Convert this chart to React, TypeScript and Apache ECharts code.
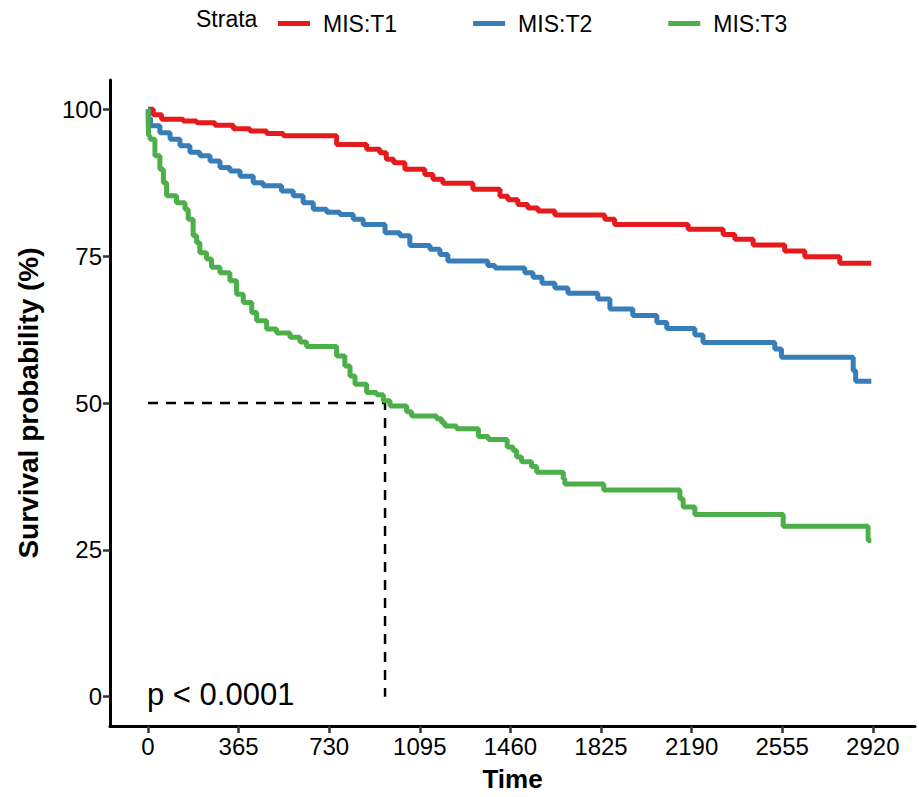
import React, { useEffect, useRef } from "react";
import * as echarts from "echarts";

const seriesNames = ["MIS:T1", "MIS:T2", "MIS:T3"];
const colors = ["#E41A1C", "#377EB8", "#4DAF4A"];

const t1Time = [0, 21, 55, 142, 196, 270, 344, 411, 478, 545, 760, 881, 934, 960, 990, 1035, 1115, 1148, 1188, 1309, 1418, 1450, 1490, 1530, 1571, 1639, 1840, 1880, 2176, 2317, 2364, 2438, 2565, 2646, 2787, 2914];
const t1Surv = [100, 99.1, 98.3, 98.0, 97.7, 97.3, 96.7, 96.3, 95.9, 95.5, 94.0, 93.2, 92.6, 91.5, 90.9, 89.8, 88.9, 88.1, 87.4, 86.4, 85.2, 84.6, 83.8, 83.2, 82.7, 82.0, 81.3, 80.4, 79.6, 78.7, 77.9, 76.9, 75.9, 74.9, 73.8, 73.8];

const t2Time = [0, 3, 10, 48, 89, 129, 169, 209, 250, 290, 330, 371, 424, 464, 538, 585, 625, 666, 720, 773, 827, 867, 955, 1015, 1055, 1136, 1176, 1208, 1369, 1398, 1518, 1551, 1587, 1639, 1692, 1812, 1861, 1953, 2050, 2090, 2203, 2236, 2525, 2552, 2841, 2851, 2914];
const t2Surv = [100, 98.5, 97.2, 96.0, 94.9, 93.8, 92.7, 92.1, 91.2, 90.1, 89.5, 88.6, 87.5, 87.0, 86.1, 85.3, 84.1, 83.0, 82.5, 82.1, 81.3, 80.4, 79.0, 78.5, 76.8, 76.2, 75.3, 74.2, 73.4, 73.0, 72.2, 71.4, 70.4, 69.6, 68.7, 67.7, 66.0, 64.9, 63.7, 62.7, 61.6, 60.3, 59.2, 57.8, 55.5, 53.7, 53.7];

const t3Time = [0, 1, 3, 8, 28, 48, 62, 75, 115, 149, 162, 182, 196, 209, 236, 256, 290, 330, 357, 384, 418, 438, 478, 518, 572, 612, 639, 760, 793, 814, 834, 881, 921, 948, 975, 1042, 1062, 1163, 1183, 1196, 1243, 1331, 1371, 1447, 1471, 1485, 1505, 1545, 1566, 1673, 1679, 1836, 2143, 2156, 2203, 2559, 2901, 2914];
const t3Surv = [100, 97.5, 95.5, 94.9, 92.1, 89.8, 87.5, 85.3, 84.1, 83.0, 81.3, 78.5, 77.3, 75.6, 74.5, 73.1, 72.2, 70.8, 68.5, 67.1, 65.4, 64.0, 62.6, 61.9, 61.2, 60.4, 59.6, 58.0, 56.3, 54.6, 53.2, 51.8, 51.4, 50.4, 49.5, 48.5, 47.8, 47.3, 46.7, 46.1, 45.6, 44.3, 43.8, 42.5, 41.9, 40.8, 40.0, 39.2, 38.2, 37.1, 36.2, 35.2, 33.7, 32.3, 31.0, 29.0, 26.6, 26.6];

const medianTime = 955;
const medianSurv = 50;

const xTicks = [0, 365, 730, 1095, 1460, 1825, 2190, 2555, 2920];
const yTicks = [0, 25, 50, 75, 100];

const pValueText = "p < 0.0001";
const legendTitle = "Strata";
const xTitle = "Time";
const yTitle = "Survival probability (%)";

const FONT = '"Liberation Sans", Arial, Helvetica, sans-serif';

function zip(t: number[], s: number[]) {
  return t.map((v, i) => [v, s[i]]);
}

export default function App() {
  const ref = useRef<HTMLDivElement>(null);
  useEffect(() => {
    if (!ref.current) return;
    const chart = echarts.init(ref.current, null, { renderer: "svg" });
    const curves = [zip(t1Time, t1Surv), zip(t2Time, t2Surv), zip(t3Time, t3Surv)];
    const series: any[] = curves.map((d, i) => ({
      name: seriesNames[i],
      type: "line",
      step: "end",
      data: d,
      showSymbol: false,
      symbol: "none",
      lineStyle: { color: colors[i], width: 5 },
      itemStyle: { color: colors[i] },
      z: 3,
    }));
    series.push({
      name: "median",
      type: "line",
      data: [
        [0, medianSurv],
        [medianTime, medianSurv],
        [medianTime, 0],
      ],
      showSymbol: false,
      symbol: "none",
      lineStyle: { color: "#000", width: 2.5, type: [10, 8] },
      z: 2,
    });
    chart.setOption({
      animation: false,
      backgroundColor: "#fff",
      textStyle: { fontFamily: FONT },
      grid: { left: 110, right: 4, top: 80, bottom: 70, containLabel: false },
      legend: {
        data: seriesNames,
        left: 273,
        top: 7,
        icon: "rect",
        itemWidth: 32,
        itemHeight: 5,
        itemGap: 76,
        textStyle: { fontSize: 23, color: "#000", fontFamily: FONT, padding: [0, 0, 0, 8] },
      },
      graphic: [
        {
          type: "text",
          left: 196,
          top: 7,
          style: { text: legendTitle, fontSize: 23, fill: "#000", fontFamily: FONT },
        },
        {
          type: "text",
          left: 147,
          top: 679,
          style: { text: pValueText, fontSize: 31, fill: "#000", fontFamily: FONT },
        },
      ],
      xAxis: {
        type: "value",
        min: -153,
        max: 3090,
        name: xTitle,
        nameLocation: "middle",
        nameGap: 40,
        nameTextStyle: { fontSize: 26, fontWeight: "bold", color: "#000", fontFamily: FONT },
        splitLine: { show: false },
        axisLine: { show: true, onZero: false, lineStyle: { color: "#000", width: 3 } },
        axisTick: { show: true, length: 7, customValues: xTicks, lineStyle: { color: "#333", width: 2.5 } },
        axisLabel: {
          customValues: xTicks,
          fontSize: 24,
          color: "#000",
          margin: 8,
          fontFamily: FONT,
          formatter: (v: number) => String(v),
        },
      },
      yAxis: {
        type: "value",
        min: -5,
        max: 105,
        name: yTitle,
        nameLocation: "middle",
        nameGap: 68,
        nameRotate: 90,
        nameTextStyle: { fontSize: 28, fontWeight: "bold", color: "#000", fontFamily: FONT },
        splitLine: { show: false },
        axisLine: { show: true, onZero: false, lineStyle: { color: "#000", width: 3 } },
        axisTick: { show: true, length: 7, customValues: yTicks, lineStyle: { color: "#333", width: 2.5 } },
        axisLabel: {
          customValues: yTicks,
          fontSize: 24,
          color: "#000",
          margin: 8,
          fontFamily: FONT,
          formatter: (v: number) => String(v),
        },
      },
      series,
    });
    return () => chart.dispose();
  }, []);
  return <div ref={ref} style={{ width: 919, height: 797, position: "absolute", left: 0, top: 0 }} />;
}
